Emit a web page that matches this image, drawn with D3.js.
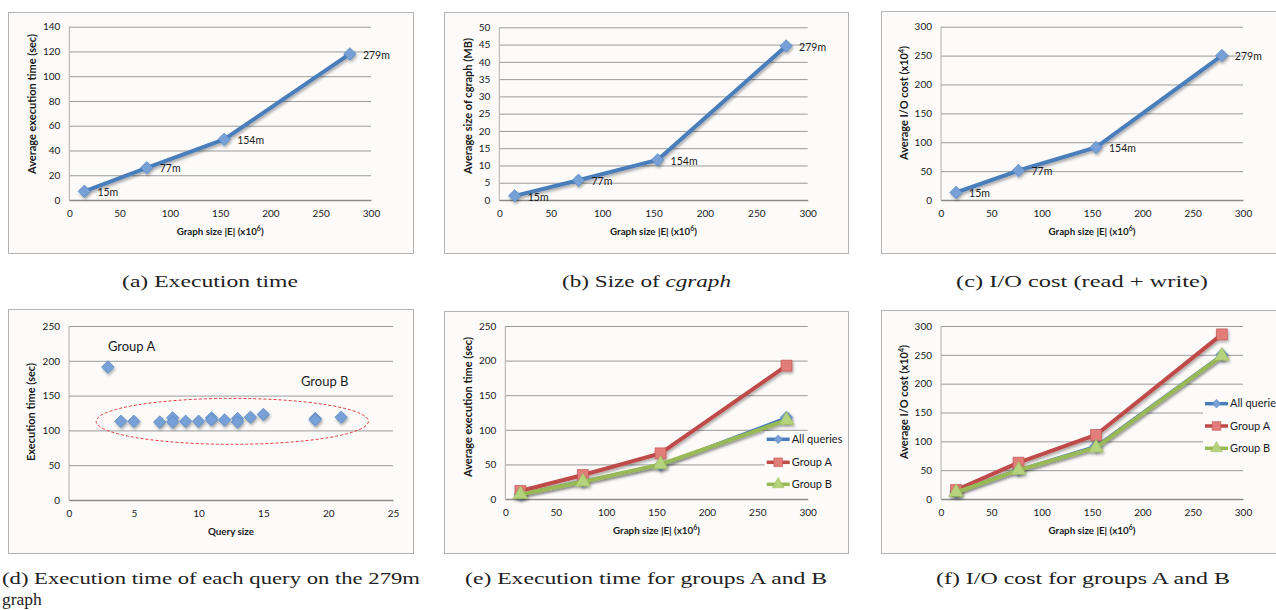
<!DOCTYPE html>
<html>
<head>
<meta charset="utf-8">
<script src="https://cdn.jsdelivr.net/npm/d3@7"></script>
<style>
  body { margin: 0; background: #fff; }
  .tick text { font-family: Lato, "Open Sans", sans-serif; font-size: 10px; fill: #1a1a1a; }
</style>
</head>
<body>
<script>
// values
var graphSizes = [15, 77, 154, 279];
var sizeLabels = ["15m", "77m", "154m", "279m"];
var execTime = [7, 26, 49, 118];
var cgraphSize = [1.2, 5.7, 11.6, 44.6];
var ioCost = [13, 51, 91, 250];

var querySize = [3, 4, 5, 7, 8, 8, 9, 10, 11, 11, 12, 13, 13, 14, 15, 19, 19, 21];
var queryTime = [191, 113, 113, 112, 118, 112, 113, 113, 118, 115, 115, 117, 112, 119, 123, 117, 115, 119];

var execAll = [7, 26, 49, 118];
var execGroupA = [11.6, 34.7, 66, 192.7];
var execGroupB = [6.7, 25, 50, 114];
var ioAll = [13, 51, 92, 250];
var ioGroupA = [15.6, 63, 111, 285.5];
var ioGroupB = [11.6, 50, 89, 248];

var seriesNames = ["All queries", "Group A", "Group B"];
var captions = ["(a) Execution time", "(b) Size of ", "(c) I/O cost (read + write)",
                "(d) Execution time of each query on the 279m", "(e) Execution time for groups A and B",
                "(f) I/O cost for groups A and B"];

var BLUE = "#4a7ebb", RED = "#be4b48", GREEN = "#98b954";
var FILL = {};
FILL[BLUE] = "#76a0d6"; FILL[RED] = "#e27d7a"; FILL[GREEN] = "#b5d27c";
var font = "Lato, 'Open Sans', sans-serif";
var serif = "'Liberation Serif', 'DejaVu Serif', serif";

var svg = d3.select("body").append("svg")
    .attr("width", 1276)
    .attr("height", 610);

var defs = svg.append("defs");
var f = defs.append("filter").attr("id", "shadow")
    .attr("x", "-50%").attr("y", "-50%").attr("width", "200%").attr("height", "200%");
f.append("feGaussianBlur").attr("in", "SourceAlpha").attr("stdDeviation", 1.8);
f.append("feOffset").attr("dx", 1).attr("dy", 2).attr("result", "o");
f.append("feComponentTransfer").append("feFuncA").attr("type", "linear").attr("slope", 0.35);
var fm = f.append("feMerge");
fm.append("feMergeNode");
fm.append("feMergeNode").attr("in", "SourceGraphic");

function shapePath(shape) {
  if (shape == "diamond") return d3.symbol().type(d3.symbolSquare).size(78)();
  if (shape == "square") return d3.symbol().type(d3.symbolSquare).size(120)();
  return d3.symbol().type(d3.symbolTriangle).size(95)();
}

function panel(cfg) {
  var g = svg.append("g");
  g.append("rect")
      .attr("x", cfg.frame[0] + 0.5).attr("y", cfg.frame[1] + 0.5)
      .attr("width", cfg.frame[2]).attr("height", cfg.frame[3])
      .attr("fill", "#fcfbfa").attr("stroke", "#b4b4b4");

  var x = d3.scaleLinear().domain(cfg.xDomain).range([cfg.l, cfg.r]);
  var y = d3.scaleLinear().domain(cfg.yDomain).range([cfg.b, cfg.t]);

  // gridlines + y ticks
  var ya = g.append("g").attr("transform", "translate(" + cfg.l + ",0)")
      .call(d3.axisLeft(y).tickValues(d3.range(cfg.yDomain[0], cfg.yDomain[1] + 0.01, cfg.yStep))
            .tickSize(-(cfg.r - cfg.l)).tickPadding(9));
  ya.select(".domain").remove();
  ya.selectAll("line").attr("stroke", "#9a9a9a").attr("stroke-width", 1);

  g.append("line").attr("x1", cfg.l).attr("x2", cfg.l).attr("y1", cfg.t).attr("y2", cfg.b)
      .attr("stroke", "#b0b0b0");

  var xa = g.append("g").attr("transform", "translate(0," + cfg.b + ")")
      .call(d3.axisBottom(x).tickValues(d3.range(cfg.xDomain[0], cfg.xDomain[1] + 0.01, cfg.xStep))
            .tickSize(0).tickPadding(10));
  xa.select(".domain").attr("stroke", "#8a8a8a").attr("stroke-width", 1.6);

  g.append("text")
      .attr("x", (cfg.l + cfg.r) / 2).attr("y", cfg.b + 32)
      .attr("text-anchor", "middle").attr("dominant-baseline", "middle")
      .style("font-family", font).style("font-size", "9.8px").style("font-weight", "bold")
      .style("fill", "#1a1a1a")
      .html(cfg.xTitle);

  g.append("text")
      .attr("transform", "translate(" + cfg.ytx + "," + cfg.yty + ") rotate(-90)")
      .attr("text-anchor", "middle").attr("dominant-baseline", "middle")
      .style("font-family", font).style("font-size", "11px").style("font-weight", "bold")
      .style("fill", "#1a1a1a")
      .html(cfg.yTitle);

  cfg.x = x; cfg.y = y; cfg.g = g;
  return cfg;
}

function series(p, xs, ys, color, shape, width, noLine) {
  var pts = xs.map(function(d, i) { return [d, ys[i]]; });
  var sg = p.g.append("g").attr("filter", "url(#shadow)");
  if (!noLine) {
    sg.append("path")
        .datum(pts)
        .attr("d", d3.line().x(function(d) { return p.x(d[0]); }).y(function(d) { return p.y(d[1]); }))
        .attr("fill", "none").attr("stroke", color).attr("stroke-width", width)
        .attr("stroke-linejoin", "round");
  }
  sg.selectAll(".pt").data(pts).enter().append("path")
      .attr("d", shapePath(shape))
      .attr("transform", function(d) {
        return "translate(" + p.x(d[0]) + "," + p.y(d[1]) + ")" + (shape == "diamond" ? " rotate(45)" : "");
      })
      .attr("fill", FILL[color]).attr("stroke", color).attr("stroke-width", 0.6);
}

function sizeLabelsOn(p, ys) {
  p.g.selectAll(".lbl").data(graphSizes).enter().append("text")
      .attr("x", function(d) { return p.x(d) + 13; })
      .attr("y", function(d, i) { return p.y(ys[i]) + 2; })
      .attr("dominant-baseline", "middle")
      .style("font-family", font).style("font-size", "10.5px").style("fill", "#1a1a1a")
      .text(function(d, i) { return sizeLabels[i]; });
}

function legend(p, lx, ly, colors, shapes) {
  p.g.append("rect").attr("x", lx - 2).attr("y", ly[0] - 8).attr("width", 72).attr("height", ly[2] - ly[0] + 16)
      .attr("fill", "#fcfbfa");
  seriesNames.forEach(function(name, i) {
    var lg = p.g.append("g");
    lg.append("line").attr("x1", lx).attr("x2", lx + 23).attr("y1", ly[i]).attr("y2", ly[i])
        .attr("stroke", colors[i]).attr("stroke-width", 3.5);
    lg.append("path").attr("d", shapePath(shapes[i]))
        .attr("transform", "translate(" + (lx + 11.5) + "," + ly[i] + ")" + (shapes[i] == "diamond" ? " rotate(45) scale(0.7)" : " scale(0.8)"))
        .attr("fill", FILL[colors[i]]).attr("stroke", colors[i]).attr("stroke-width", 0.6);
    lg.append("text").attr("x", lx + 25).attr("y", ly[i] + 1).attr("dominant-baseline", "middle")
        .style("font-family", font).style("font-size", "11px").style("fill", "#1a1a1a")
        .text(name);
  });
}

var xTitleE = "Graph size |E| (x10<tspan dy='-3.5' font-size='7px'>6</tspan><tspan dy='3.5'>)</tspan>";
var yTitleIO = "Average I/O cost (x10<tspan dy='-3.5' font-size='7px'>4</tspan><tspan dy='3.5'>)</tspan>";

// (a)
var pa = panel({frame: [8, 12, 405, 241], l: 69.3, r: 371, t: 26.7, b: 200,
  xDomain: [0, 300], xStep: 50, yDomain: [0, 140], yStep: 20,
  xTitle: xTitleE, yTitle: "Average execution time (sec)", ytx: 33, yty: 104});
series(pa, graphSizes, execTime, BLUE, "diamond", 4);
sizeLabelsOn(pa, execTime);

// (b)
var pb = panel({frame: [444, 12, 404, 241], l: 499.3, r: 807.7, t: 27.3, b: 200,
  xDomain: [0, 300], xStep: 50, yDomain: [0, 50], yStep: 5,
  xTitle: xTitleE, yTitle: "Average size of cgraph (MB)", ytx: 469.3, yty: 106});
series(pb, graphSizes, cgraphSize, BLUE, "diamond", 4);
sizeLabelsOn(pb, cgraphSize);

// (c)
var pc = panel({frame: [881, 11, 410, 242], l: 941, r: 1243, t: 26.7, b: 200,
  xDomain: [0, 300], xStep: 50, yDomain: [0, 300], yStep: 50,
  xTitle: xTitleE, yTitle: yTitleIO, ytx: 905, yty: 103});
series(pc, graphSizes, ioCost, BLUE, "diamond", 4);
sizeLabelsOn(pc, ioCost);

// (d)
var pd = panel({frame: [8, 309, 405, 244], l: 69, r: 393, t: 326, b: 500,
  xDomain: [0, 25], xStep: 5, yDomain: [0, 250], yStep: 50,
  xTitle: "Query size", yTitle: "Execution time (sec)", ytx: 31.7, yty: 412});
series(pd, querySize, queryTime, BLUE, "diamond", 0, true);
pd.g.append("ellipse")
    .attr("cx", pd.x(12.6)).attr("cy", pd.y(113))
    .attr("rx", pd.x(10.5) - pd.x(0)).attr("ry", pd.y(0) - pd.y(33))
    .attr("fill", "none").attr("stroke", "#e23a3a").attr("stroke-width", 1)
    .attr("stroke-dasharray", "3,2");
pd.g.append("text").attr("x", pd.x(3.0)).attr("y", pd.y(219)).attr("dominant-baseline", "middle")
    .style("font-family", font).style("font-size", "13px").style("fill", "#1a1a1a").text("Group A");
pd.g.append("text").attr("x", pd.x(17.9)).attr("y", pd.y(168)).attr("dominant-baseline", "middle")
    .style("font-family", font).style("font-size", "13px").style("fill", "#1a1a1a").text("Group B");

// (e)
var pe = panel({frame: [444, 311, 404, 242], l: 505.3, r: 807.7, t: 326, b: 499,
  xDomain: [0, 300], xStep: 50, yDomain: [0, 250], yStep: 50,
  xTitle: xTitleE, yTitle: "Average execution time (sec)", ytx: 469.3, yty: 407});
series(pe, graphSizes, execAll, BLUE, "diamond", 2.5);
series(pe, graphSizes, execGroupA, RED, "square", 4);
series(pe, graphSizes, execGroupB, GREEN, "triangle", 4);
legend(pe, 766.7, [439.3, 462.3, 484.3], [BLUE, RED, GREEN], ["diamond", "square", "triangle"]);

// (f)
var pf = panel({frame: [881, 310, 410, 243], l: 941, r: 1243, t: 326, b: 499,
  xDomain: [0, 300], xStep: 50, yDomain: [0, 300], yStep: 50,
  xTitle: xTitleE, yTitle: yTitleIO, ytx: 905, yty: 402});
series(pf, graphSizes, ioAll, BLUE, "diamond", 2.5);
series(pf, graphSizes, ioGroupA, RED, "square", 4);
series(pf, graphSizes, ioGroupB, GREEN, "triangle", 4);
legend(pf, 1205, [403.7, 426, 448.3], [BLUE, RED, GREEN], ["diamond", "square", "triangle"]);

// captions
var capPos = [[210, 283, 176], [646.5, 283, 169], [1082, 283, 252], [2, 580, 418], [646, 580, 362], [1083, 580, 294]];
captions.forEach(function(c, i) {
  var t = svg.append("text")
      .attr("x", capPos[i][0]).attr("y", capPos[i][1])
      .attr("text-anchor", i == 3 ? "start" : "middle").attr("dominant-baseline", "middle")
      .attr("textLength", capPos[i][2]).attr("lengthAdjust", "spacingAndGlyphs")
      .style("font-family", serif).style("font-size", "17.5px")
      .style("fill", "#222")
      .text(c);
  if (i == 1) t.append("tspan").style("font-style", "italic").text("cgraph");
});
svg.append("text").attr("x", 2).attr("y", 601).attr("dominant-baseline", "middle")
    .style("font-family", serif).style("font-size", "17.5px")
    .style("fill", "#222").text("graph");
</script>
</body>
</html>
